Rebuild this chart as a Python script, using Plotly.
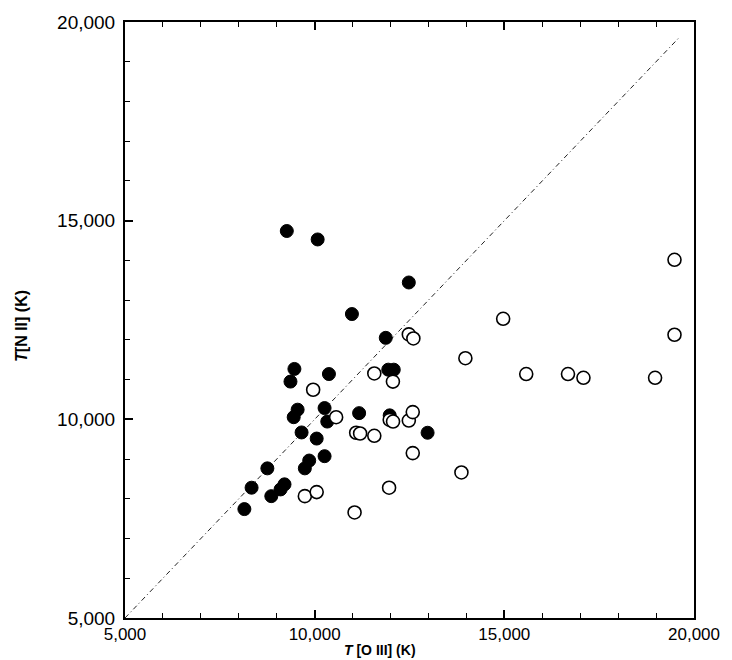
import plotly.graph_objects as go

# Filled circles
filled_x = [9265, 10079, 12482, 10982, 11874, 9466, 9362, 10376, 11940, 12085,
            9551, 9447, 10261, 10332, 11172, 11978, 9655, 10053, 12977, 8753,
            9856, 9741, 10261, 8337, 9205, 9101, 8857, 8147]
filled_y = [14740, 14527, 13444, 12650, 12051, 11268, 10950, 11140, 11250, 11250,
            10243, 10054, 10284, 9944, 10156, 10100, 9670, 9516, 9662, 8766,
            8963, 8766, 9073, 8279, 8364, 8236, 8067, 7741]

# Open circles
open_x = [19486, 19486, 14969, 13973, 15577, 16678, 17086, 18974, 13869, 12482,
          12602, 9960, 11572, 12063, 10566, 11978, 12066, 12482, 12586, 11094,
          11198, 11572, 12586, 9741, 10053, 11962, 11052]
open_y = [14015, 12128, 12530, 11539, 11140, 11140, 11045, 11045, 8663, 12138,
          12036, 10745, 11155, 10950, 10054, 9987, 9944, 9969, 10182, 9662,
          9644, 9585, 9150, 8067, 8169, 8279, 7657]

# one-to-one line
line_vals = [5000, 19600]

ticks = [5000, 10000, 15000, 20000]
ticktext = ["5,000", "10,000", "15,000", "20,000"]

fig = go.Figure()
fig.add_trace(go.Scatter(x=line_vals, y=line_vals, mode="lines",
                         line=dict(color="#222222", width=1, dash="5px,3px,1px,3px"),
                         hoverinfo="skip", showlegend=False))
fig.add_trace(go.Scatter(x=filled_x, y=filled_y, mode="markers",
                         marker=dict(symbol="circle", size=13, color="black",
                                     line=dict(color="black", width=1)),
                         showlegend=False))
fig.add_trace(go.Scatter(x=open_x, y=open_y, mode="markers",
                         marker=dict(symbol="circle", size=13, color="white",
                                     line=dict(color="black", width=1.6)),
                         showlegend=False))

font_family = "Liberation Sans, Arial, Helvetica, sans-serif"
axis_common = dict(
    range=[5000, 20000],
    tickvals=ticks, ticktext=ticktext,
    ticks="inside", ticklen=8, tickwidth=1.5, tickcolor="black",
    minor=dict(dtick=1000, tick0=5000, ticks="inside", ticklen=5, tickwidth=1.2,
               tickcolor="black", showgrid=False),
    showline=True, linecolor="black", linewidth=2,
    showgrid=False, zeroline=False,
)

fig.update_layout(
    width=732, height=660,
    margin=dict(l=125, r=28, t=18, b=42),
    paper_bgcolor="white", plot_bgcolor="white",
    xaxis=dict(**axis_common, mirror="ticks", ticklabelstandoff=0,
               tickfont=dict(family=font_family, size=17, color="black")),
    yaxis=dict(**axis_common, mirror=True, ticklabelstandoff=4,
               tickfont=dict(family=font_family, size=19, color="black")),
    annotations=[
        dict(text="<b><i>T</i> [O III] (K)</b>", xref="paper", yref="paper",
             x=0.448, y=0, yshift=-42, xanchor="center", yanchor="bottom", showarrow=False,
             font=dict(family=font_family, size=14, color="black")),
        dict(text="<b><i>T</i>[N II] (K)</b>", xref="paper", yref="paper",
             x=0, xshift=-103, y=0.49, xanchor="center", yanchor="middle", showarrow=False,
             textangle=-90, font=dict(family=font_family, size=16, color="black")),
    ],
)

fig.write_html("out.html")
